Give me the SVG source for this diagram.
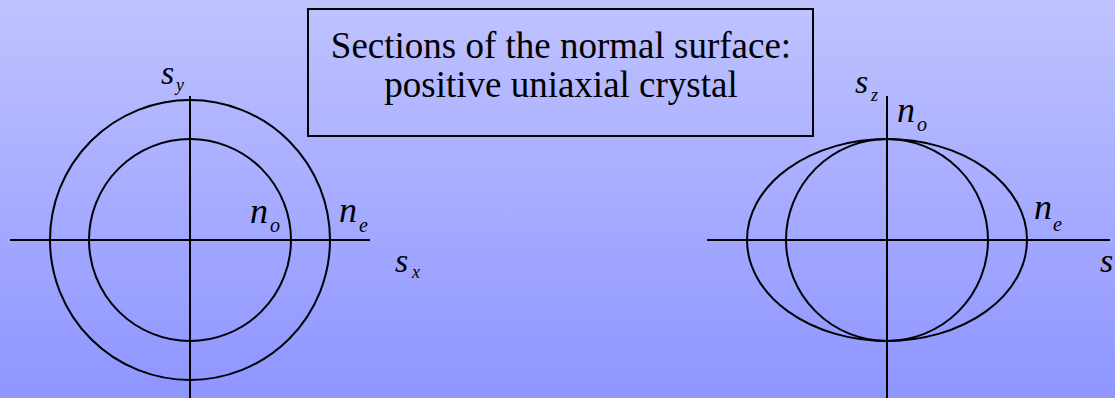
<svg xmlns="http://www.w3.org/2000/svg" width="1115" height="398" viewBox="0 0 1115 398">
<defs>
<linearGradient id="bg" x1="0" y1="0" x2="0" y2="1">
<stop offset="0" stop-color="#bfc3ff"/>
<stop offset="1" stop-color="#8e95ff"/>
</linearGradient>
</defs>
<style>
.ln{fill:none;stroke:#000;stroke-width:2}
text{font-family:'Liberation Serif','Times New Roman','DejaVu Serif',serif;fill:#000}
.n{font-style:italic;font-size:36px}
.s{font-style:italic;font-size:34px}
.sub{font-style:italic;font-size:20px}
.ss{font-style:italic;font-size:18px}
</style>
<rect width="1115" height="398" fill="url(#bg)"/>
<g id="title">
<rect x="308" y="9" width="505" height="127" fill="none" stroke="#000" stroke-width="2"/>
<text x="561" y="58" font-size="37" text-anchor="middle">Sections of the normal surface:</text>
<text x="561" y="97" font-size="37" text-anchor="middle">positive uniaxial crystal</text>
</g>
<g id="left-section">
<line class="ln" x1="190" y1="96" x2="190" y2="398"/>
<line class="ln" x1="10" y1="240" x2="370" y2="240"/>
<circle class="ln" cx="190" cy="240" r="140"/>
<circle class="ln" cx="190" cy="240" r="101"/>
<text class="s" x="161" y="84">s</text><text class="ss" x="176" y="91">y</text>
<text class="n" x="250" y="223">n</text><text class="sub" x="270" y="232">o</text>
<text class="n" x="339" y="222">n</text><text class="sub" x="359" y="232">e</text>
<text class="s" x="395" y="272">s</text><text class="ss" x="412" y="278">x</text>
</g>
<g id="right-section">
<line class="ln" x1="887" y1="96" x2="887" y2="398"/>
<line class="ln" x1="707" y1="240" x2="1110" y2="240"/>
<ellipse class="ln" cx="887" cy="240" rx="140" ry="101"/>
<circle class="ln" cx="887" cy="240" r="101"/>
<text class="s" x="855" y="93">s</text><text class="ss" x="871" y="101">z</text>
<text class="n" x="897" y="122">n</text><text class="sub" x="917" y="131">o</text>
<text class="n" x="1034" y="219">n</text><text class="sub" x="1053" y="231">e</text>
<text class="s" x="1100" y="272">s</text>
</g>
</svg>
